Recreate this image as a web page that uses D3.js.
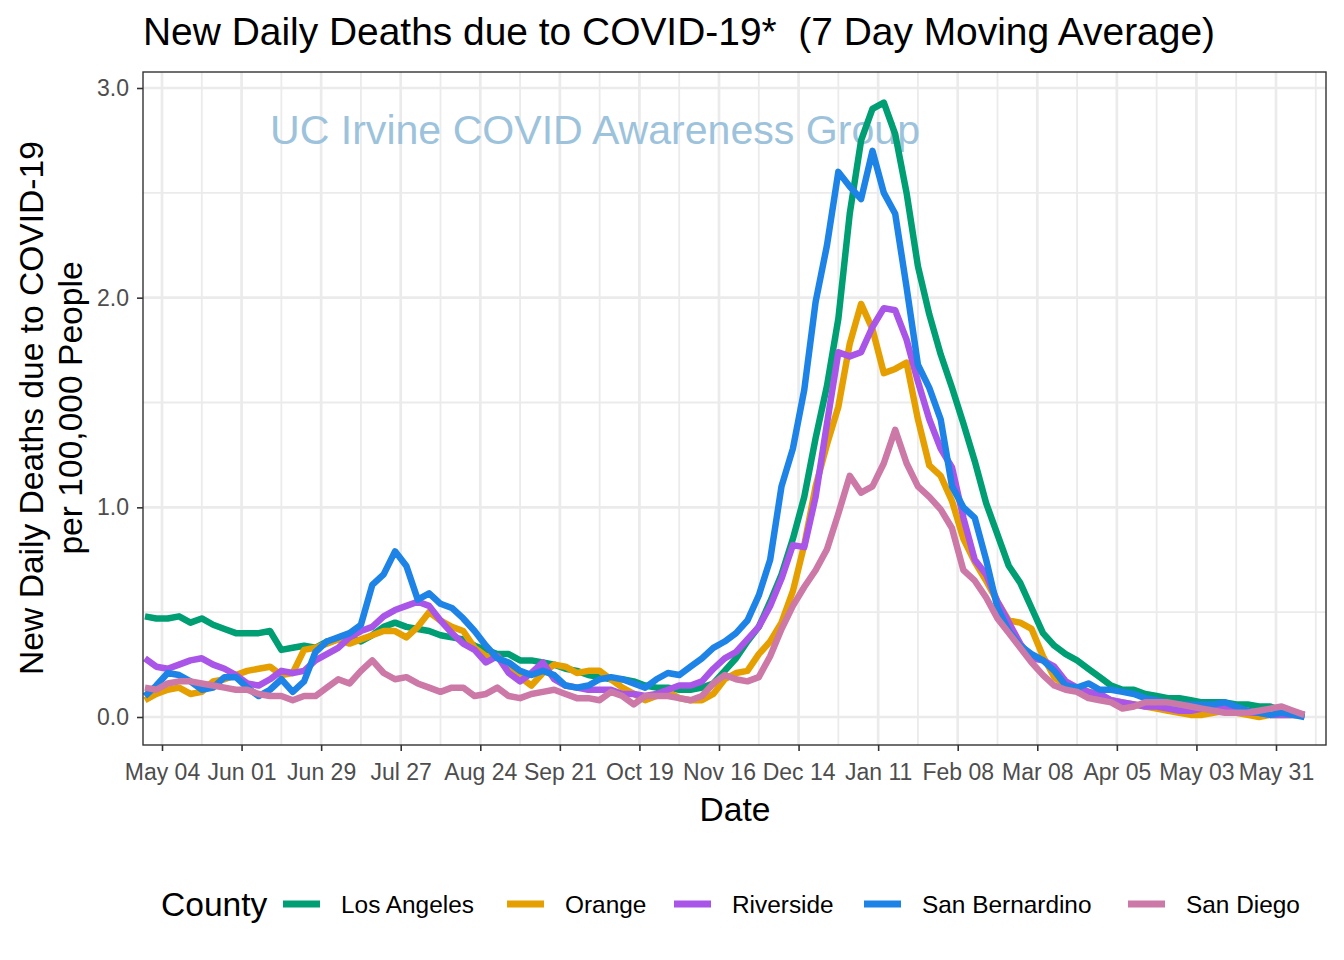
<!DOCTYPE html>
<html><head><meta charset="utf-8">
<script src="https://cdn.jsdelivr.net/npm/d3@7"></script>
<style>body{margin:0;background:#fff;} text{font-family:"Liberation Sans",Arial,sans-serif;}</style>
</head><body><svg id="chart" width="1344" height="960"></svg>
<script>
const dates = ["2020-04-28","2020-05-02","2020-05-06","2020-05-10","2020-05-14","2020-05-18","2020-05-22","2020-05-26","2020-05-30",
"2020-06-03","2020-06-07","2020-06-11","2020-06-15","2020-06-19","2020-06-23","2020-06-27",
"2020-07-01","2020-07-05","2020-07-09","2020-07-13","2020-07-17","2020-07-21","2020-07-25","2020-07-29",
"2020-08-02","2020-08-06","2020-08-10","2020-08-14","2020-08-18","2020-08-22","2020-08-26","2020-08-30",
"2020-09-03","2020-09-07","2020-09-11","2020-09-15","2020-09-19","2020-09-23","2020-09-27",
"2020-10-01","2020-10-05","2020-10-09","2020-10-13","2020-10-17","2020-10-21","2020-10-25","2020-10-29",
"2020-11-02","2020-11-06","2020-11-10","2020-11-14","2020-11-18","2020-11-22","2020-11-26","2020-11-30",
"2020-12-04","2020-12-08","2020-12-12","2020-12-16","2020-12-20","2020-12-24","2020-12-28",
"2021-01-01","2021-01-05","2021-01-09","2021-01-13","2021-01-17","2021-01-21","2021-01-25","2021-01-29",
"2021-02-02","2021-02-06","2021-02-10","2021-02-14","2021-02-18","2021-02-22","2021-02-26",
"2021-03-02","2021-03-06","2021-03-10","2021-03-14","2021-03-18","2021-03-22","2021-03-26","2021-03-30",
"2021-04-03","2021-04-07","2021-04-11","2021-04-15","2021-04-19","2021-04-23","2021-04-27",
"2021-05-01","2021-05-05","2021-05-09","2021-05-13","2021-05-17","2021-05-21","2021-05-25","2021-05-29",
"2021-06-02","2021-06-06","2021-06-10"];

const losAngeles = [0.48,0.47,0.47,0.48,0.45,0.47,0.44,0.42,0.40,0.40,
0.40,0.41,0.32,0.33,0.34,0.33,0.36,0.37,0.38,0.36,
0.39,0.43,0.45,0.43,0.42,0.41,0.39,0.38,0.37,0.34,
0.32,0.30,0.30,0.27,0.27,0.26,0.25,0.23,0.22,0.20,
0.19,0.18,0.18,0.17,0.15,0.14,0.14,0.13,0.13,0.14,
0.16,0.22,0.28,0.36,0.43,0.55,0.68,0.85,1.05,1.33,
1.58,1.90,2.40,2.75,2.90,2.93,2.78,2.50,2.15,1.92,
1.73,1.57,1.40,1.22,1.02,0.87,0.72,0.64,0.52,0.40,
0.34,0.30,0.27,0.23,0.19,0.15,0.13,0.13,0.11,0.10,
0.09,0.09,0.08,0.07,0.07,0.07,0.06,0.06,0.05,0.05,
0.03,0.02,0.01];

const orange = [0.08,0.11,0.13,0.14,0.11,0.12,0.17,0.18,0.20,0.22,
0.23,0.24,0.20,0.21,0.32,0.33,0.35,0.37,0.35,0.37,
0.39,0.41,0.41,0.38,0.43,0.50,0.46,0.43,0.41,0.33,
0.29,0.29,0.23,0.19,0.15,0.21,0.25,0.24,0.21,0.22,
0.22,0.18,0.14,0.11,0.08,0.10,0.12,0.09,0.08,0.08,
0.11,0.18,0.21,0.22,0.30,0.36,0.45,0.60,0.82,1.10,
1.30,1.48,1.78,1.97,1.85,1.64,1.66,1.69,1.42,1.20,
1.15,1.03,0.85,0.74,0.65,0.55,0.46,0.45,0.42,0.29,
0.19,0.15,0.14,0.12,0.10,0.08,0.07,0.06,0.05,0.04,
0.03,0.02,0.01,0.01,0.02,0.03,0.02,0.01,0.00,0.01,
0.01,0.01,0.01];

const riverside = [0.28,0.24,0.23,0.25,0.27,0.28,0.25,0.23,0.20,0.16,
0.15,0.18,0.22,0.21,0.22,0.27,0.30,0.33,0.38,0.41,
0.43,0.48,0.51,0.53,0.55,0.53,0.46,0.40,0.35,0.32,
0.26,0.29,0.21,0.17,0.21,0.26,0.18,0.15,0.14,0.13,
0.13,0.13,0.11,0.11,0.10,0.11,0.13,0.15,0.15,0.17,
0.23,0.28,0.31,0.37,0.43,0.53,0.66,0.82,0.81,1.05,
1.40,1.74,1.72,1.74,1.86,1.95,1.94,1.80,1.60,1.42,
1.28,1.19,0.95,0.75,0.68,0.55,0.45,0.35,0.28,0.27,
0.24,0.17,0.14,0.12,0.11,0.08,0.07,0.06,0.05,0.05,
0.04,0.03,0.03,0.04,0.04,0.04,0.03,0.02,0.02,0.01,
0.01,0.01,0.01];

const sanBernardino = [0.10,0.15,0.21,0.20,0.17,0.13,0.14,0.19,0.19,0.14,
0.10,0.13,0.18,0.12,0.17,0.31,0.36,0.38,0.40,0.44,
0.63,0.68,0.79,0.72,0.56,0.59,0.54,0.52,0.47,0.41,
0.34,0.28,0.26,0.22,0.20,0.22,0.20,0.15,0.14,0.15,
0.18,0.19,0.18,0.16,0.14,0.18,0.21,0.20,0.24,0.28,
0.33,0.36,0.40,0.46,0.58,0.75,1.10,1.28,1.56,1.98,
2.25,2.60,2.53,2.47,2.70,2.50,2.40,2.05,1.68,1.57,
1.42,1.10,1.00,0.95,0.75,0.52,0.41,0.34,0.30,0.27,
0.22,0.15,0.14,0.16,0.13,0.13,0.12,0.11,0.09,0.08,
0.07,0.06,0.06,0.06,0.06,0.07,0.05,0.03,0.02,0.01,
0.02,0.01,0.00];

const sanDiego = [0.14,0.13,0.16,0.17,0.17,0.16,0.15,0.14,0.13,0.13,
0.11,0.10,0.10,0.08,0.10,0.10,0.14,0.18,0.16,0.22,
0.27,0.21,0.18,0.19,0.16,0.14,0.12,0.14,0.14,0.10,
0.11,0.14,0.10,0.09,0.11,0.12,0.13,0.11,0.09,0.09,
0.08,0.12,0.10,0.06,0.10,0.10,0.10,0.09,0.08,0.10,
0.16,0.20,0.18,0.17,0.19,0.29,0.42,0.53,0.62,0.70,
0.80,0.97,1.15,1.07,1.10,1.21,1.37,1.21,1.10,1.05,
0.99,0.90,0.70,0.65,0.57,0.47,0.40,0.33,0.26,0.20,
0.15,0.13,0.12,0.09,0.08,0.07,0.04,0.05,0.07,0.07,
0.07,0.06,0.05,0.04,0.03,0.02,0.02,0.02,0.03,0.04,
0.05,0.03,0.01];

const counties = ["Los Angeles","Orange","Riverside","San Bernardino","San Diego"];
const seriesValues = [losAngeles, orange, riverside, sanBernardino, sanDiego];
const countyColors = ["#009E73","#E69F00","#A855E8","#1E83E6","#CC79A7"];

const xTickDates = ["2020-05-04","2020-06-01","2020-06-29","2020-07-27","2020-08-24","2020-09-21","2020-10-19",
"2020-11-16","2020-12-14","2021-01-11","2021-02-08","2021-03-08","2021-04-05","2021-05-03","2021-05-31"];
const xTickLabels = ["May 04","Jun 01","Jun 29","Jul 27","Aug 24","Sep 21","Oct 19","Nov 16","Dec 14","Jan 11",
"Feb 08","Mar 08","Apr 05","May 03","May 31"];
const yTicks = [0,1,2,3];
const yTickLabels = ["0.0","1.0","2.0","3.0"];
const yMinor = [0.5,1.5,2.5];

const parse = d3.utcParse("%Y-%m-%d");
const svg = d3.select("#chart");
const P = {left:143, right:1326, top:72, bottom:745};

const x = d3.scaleUtc().domain([parse("2020-05-04"), parse("2021-05-31")]).range([162, 1276]);
const y = d3.scaleLinear().domain([0,3]).range([717, 88]);

svg.append("rect").attr("width",1344).attr("height",960).attr("fill","#fff");

svg.append("defs").append("clipPath").attr("id","pclip").append("rect")
  .attr("x",P.left).attr("y",P.top).attr("width",P.right-P.left).attr("height",P.bottom-P.top);

const grid = svg.append("g").attr("clip-path","url(#pclip)");
const xMajor = xTickDates.map(parse);
const xMinor = xMajor.map(d=>d3.utcDay.offset(d,-14));
xMinor.push(d3.utcDay.offset(xMajor[xMajor.length-1],14));
grid.selectAll(".xminor").data(xMinor).join("line")
  .attr("x1",d=>x(d)).attr("x2",d=>x(d)).attr("y1",P.top).attr("y2",P.bottom)
  .attr("stroke","#EBEBEB").attr("stroke-width",1.8);
grid.selectAll(".yminor").data(yMinor).join("line")
  .attr("x1",P.left).attr("x2",P.right).attr("y1",d=>y(d)).attr("y2",d=>y(d))
  .attr("stroke","#EBEBEB").attr("stroke-width",1.8);
grid.selectAll(".xmajor").data(xMajor).join("line")
  .attr("x1",d=>x(d)).attr("x2",d=>x(d)).attr("y1",P.top).attr("y2",P.bottom)
  .attr("stroke","#EBEBEB").attr("stroke-width",2.7);
grid.selectAll(".ymajor").data(yTicks).join("line")
  .attr("x1",P.left).attr("x2",P.right).attr("y1",d=>y(d)).attr("y2",d=>y(d))
  .attr("stroke","#EBEBEB").attr("stroke-width",2.7);

// watermark
svg.append("text").attr("x",270).attr("y",144).attr("font-size",40.9)
  .attr("textLength",650).attr("lengthAdjust","spacingAndGlyphs")
  .attr("fill","#9DC3DC").text("UC Irvine COVID Awareness Group");

// lines
const dateObjs = dates.map(parse);
const line = d3.line().x((d,i)=>x(dateObjs[i])).y(d=>y(d));
const lines = svg.append("g").attr("clip-path","url(#pclip)");
seriesValues.forEach((vals,k)=>{
  lines.append("path").datum(vals).attr("d",line).attr("fill","none")
    .attr("stroke",countyColors[k]).attr("stroke-width",6.5)
    .attr("stroke-linejoin","round").attr("stroke-linecap","butt");
});

// panel border
svg.append("rect").attr("x",P.left).attr("y",P.top).attr("width",P.right-P.left).attr("height",P.bottom-P.top)
  .attr("fill","none").attr("stroke","#333333").attr("stroke-width",1.4);

// x axis
const xAxis = d3.axisBottom(x).tickValues(xMajor).tickFormat((d,i)=>xTickLabels[i]).tickSize(6).tickPadding(13);
const gx = svg.append("g").attr("transform",`translate(0,${P.bottom})`).call(xAxis);
gx.select(".domain").remove();
gx.selectAll(".tick line").attr("stroke","#333333").attr("stroke-width",1.6);
gx.selectAll(".tick text").attr("font-size",23).attr("fill","#4D4D4D")
  .attr("font-family","Liberation Sans, Arial, sans-serif").attr("dy","0.71em");

// y axis
const yAxis = d3.axisLeft(y).tickValues(yTicks).tickFormat((d,i)=>yTickLabels[i]).tickSize(6).tickPadding(8);
const gy = svg.append("g").attr("transform",`translate(${P.left},0)`).call(yAxis);
gy.select(".domain").remove();
gy.selectAll(".tick line").attr("stroke","#333333").attr("stroke-width",1.6);
gy.selectAll(".tick text").attr("font-size",23).attr("fill","#4D4D4D")
  .attr("font-family","Liberation Sans, Arial, sans-serif");

// title
svg.append("text").attr("x",143).attr("y",45).attr("font-size",38.8).attr("fill","#000")
  .style("white-space","pre").attr("textLength",1072).attr("lengthAdjust","spacingAndGlyphs")
  .text("New Daily Deaths due to COVID-19*  (7 Day Moving Average)");

// axis titles
svg.append("text").attr("x",735).attr("y",821).attr("text-anchor","middle").attr("font-size",33.6).text("Date");
const yt = svg.append("g").attr("transform","translate(0,408) rotate(-90)");
yt.append("text").attr("x",0).attr("y",43).attr("text-anchor","middle").attr("font-size",33.6)
  .text("New Daily Deaths due to COVID-19");
yt.append("text").attr("x",0).attr("y",82).attr("text-anchor","middle").attr("font-size",33.6)
  .text("per 100,000 People");

// legend
const legY = 904;
svg.append("text").attr("x",161).attr("y",legY+12).attr("font-size",33.6).text("County");
const keyX = [283, 507, 674, 864, 1128];
counties.forEach((c,k)=>{
  svg.append("line").attr("x1",keyX[k]).attr("x2",keyX[k]+37).attr("y1",legY).attr("y2",legY)
    .attr("stroke",countyColors[k]).attr("stroke-width",7);
  svg.append("text").attr("x",keyX[k]+58).attr("y",legY+8.5).attr("font-size",24.4).text(c);
});
</script></body></html>
